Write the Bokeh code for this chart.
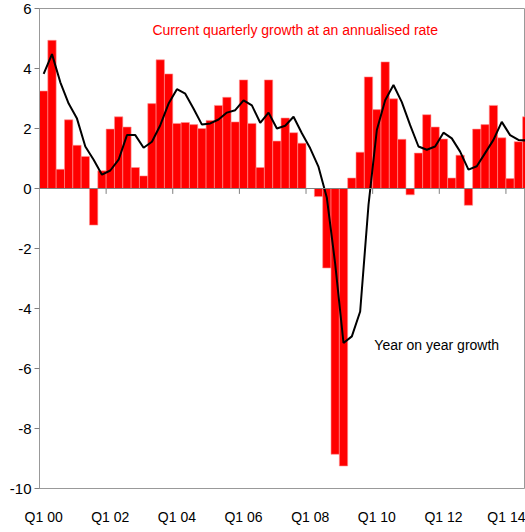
from bokeh.plotting import figure
from bokeh.models import FixedTicker, Span, Label, Range1d
from bokeh.embed import file_html
from bokeh.resources import INLINE

# Quarterly growth at an annualised rate, Q1 2000 .. Q3 2014
qoq = [3.25, 4.94, 0.64, 2.29, 1.44, 1.07, -1.22, 0.59, 1.98, 2.39, 2.05, 0.70,
       0.42, 2.83, 4.29, 3.82, 2.17, 2.20, 2.13, 2.00, 2.27, 2.77, 3.04, 2.22,
       3.62, 2.17, 0.70, 3.62, 1.58, 2.35, 1.86, 1.51, 0.0, -0.27, -2.65, -8.86,
       -9.25, 0.35, 1.21, 3.72, 2.63, 4.22, 2.99, 1.64, -0.21, 1.18, 2.46, 2.05,
       1.65, 0.35, 1.11, -0.56, 1.98, 2.13, 2.77, 1.69, 0.33, 1.56, 2.39]
# Year on year growth
yoy = [3.82, 4.48, 3.54, 2.83, 2.33, 1.40, 0.96, 0.46, 0.60, 0.96, 1.78, 1.78,
       1.36, 1.56, 2.11, 2.83, 3.31, 3.16, 2.66, 2.13, 2.17, 2.30, 2.53, 2.61,
       2.94, 2.77, 2.19, 2.53, 2.00, 2.09, 2.39, 1.84, 1.34, 0.72, -0.31, -2.51,
       -5.15, -4.93, -4.10, -0.55, 1.95, 2.94, 3.45, 2.88, 2.11, 1.40, 1.29, 1.40,
       1.86, 1.67, 1.23, 0.63, 0.74, 1.18, 1.62, 2.22, 1.78, 1.62, 1.60]

tick_labels = ["Q1 00", "Q1 02", "Q1 04", "Q1 06", "Q1 08", "Q1 10", "Q1 12", "Q1 14"]
tick_quarters = [0, 8, 16, 24, 32, 40, 48, 56]
y_ticks = [6, 4, 2, 0, -2, -4, -6, -8, -10]

FONT = "Liberation Sans"

xs = [i + 0.5 for i in range(len(qoq))]

p = figure(width=525, height=532, output_backend="svg", toolbar_location=None,
           x_range=Range1d(0, 58.35), y_range=Range1d(-10, 6),
           min_border_left=39, min_border_right=0, min_border_top=8,
           min_border_bottom=44)
p.background_fill_color = "white"
p.border_fill_color = "white"
p.outline_line_color = "#999999"
p.xgrid.visible = False
p.ygrid.visible = False

# y axis
p.yaxis.ticker = FixedTicker(ticks=y_ticks)
p.yaxis.major_label_overrides = {t: str(t) for t in y_ticks}
p.yaxis.major_label_text_font = FONT
p.yaxis.major_label_text_font_size = "15px"
p.yaxis.major_label_text_color = "black"
p.yaxis.axis_line_color = "#999999"
p.yaxis.major_tick_line_color = "#808080"
p.yaxis.major_tick_out = 5
p.yaxis.major_tick_in = 0
p.yaxis.minor_tick_line_color = None
p.yaxis.major_label_standoff = 3

# x axis (labels at bottom, centred on first quarter of each labelled year)
p.xaxis.ticker = FixedTicker(ticks=[q + 0.5 for q in tick_quarters])
p.xaxis.major_label_overrides = {q + 0.5: lab for q, lab in zip(tick_quarters, tick_labels)}
p.xaxis.major_label_text_font = FONT
p.xaxis.major_label_text_font_size = "14px"
p.xaxis.major_label_text_color = "black"
p.xaxis.axis_line_color = None
p.xaxis.major_tick_line_color = None
p.xaxis.minor_tick_line_color = None
p.xaxis.major_label_standoff = 14

# bars
p.vbar(x=xs, top=qoq, bottom=0, width=1, fill_color="#ff0000",
       line_color="#ff9090", line_width=0.6)

# zero line with its category ticks
p.add_layout(Span(location=0, dimension="width", line_color="#808080", line_width=1))
p.segment(x0=tick_quarters, y0=[0] * len(tick_quarters), x1=tick_quarters,
          y1=[-0.18] * len(tick_quarters), line_color="#808080", line_width=1)

# yoy line
p.line(xs, yoy, line_color="black", line_width=2)

p.add_layout(Label(x=30.7, y=5.3, text="Current quarterly growth at an annualised rate",
                   text_color="#ff0000", text_font=FONT, text_font_size="14px",
                   text_align="center", text_baseline="middle"))
p.add_layout(Label(x=40.2, y=-5.23, text="Year on year growth",
                   text_color="black", text_font=FONT, text_font_size="14px",
                   text_align="left", text_baseline="middle"))

open("out.html", "w").write(file_html(p, INLINE))
